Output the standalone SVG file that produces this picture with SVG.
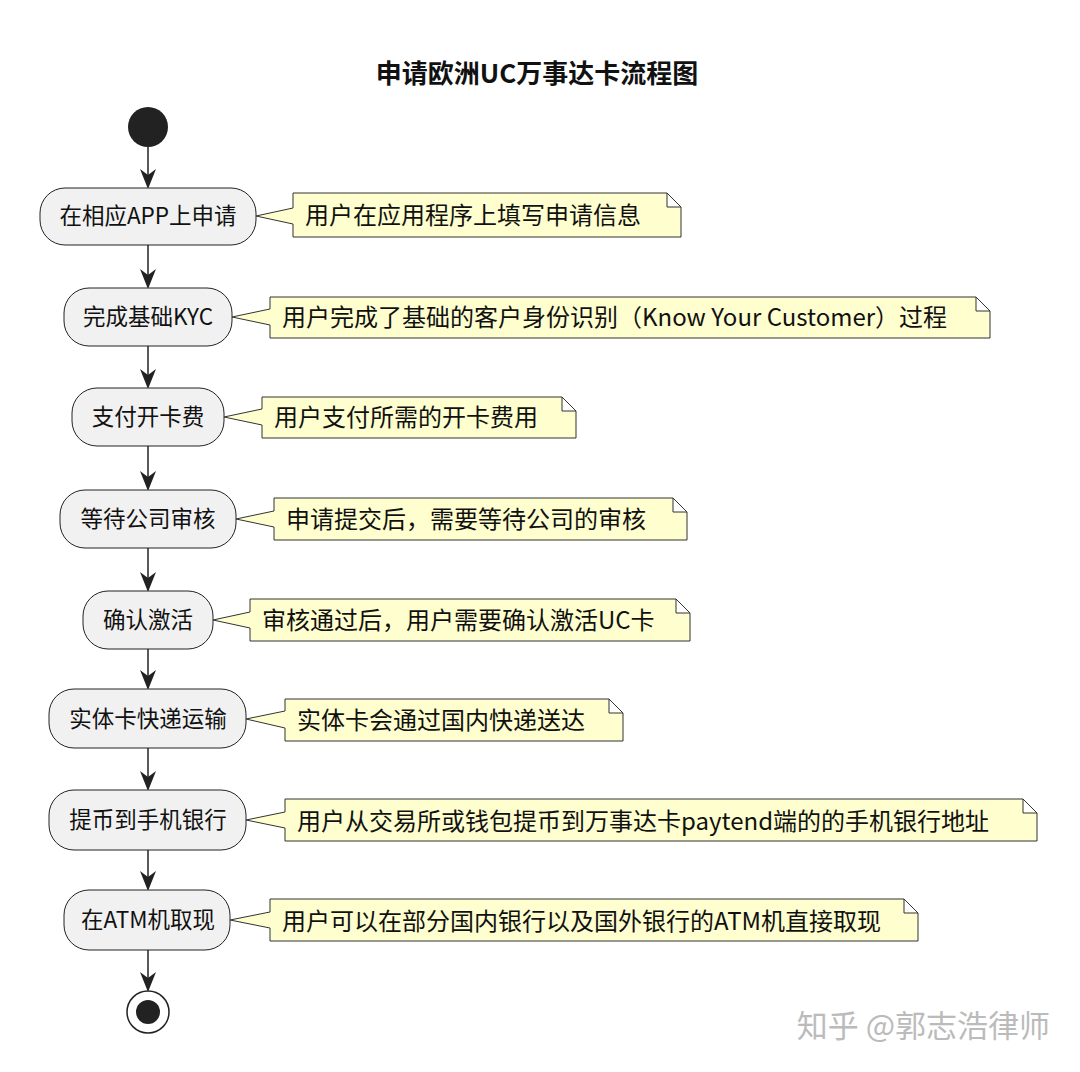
<svg xmlns="http://www.w3.org/2000/svg" width="1080" height="1072" viewBox="0 0 1080 1072">
<defs>
<style>
text{font-family:"Noto Sans CJK SC","Noto Sans",sans-serif;fill:#111}
.n rect{fill:#f1f1f1;stroke:#222;stroke-width:1}
.n text{font-size:22.5px;text-anchor:middle}
.note path{fill:#fefece;stroke:#333;stroke-width:1}
.note text{font-size:24px}
.c line{stroke:#222;stroke-width:1.5}
</style>
<marker id="ah" viewBox="0 0 20 20" refX="18" refY="10" markerWidth="20" markerHeight="20" markerUnits="userSpaceOnUse" orient="auto"><path d="M0,2 L20,10 L0,18 L6,10 Z" fill="#222"/></marker>
</defs>
<rect width="1080" height="1072" fill="#fff"/>
<text x="537" y="83" font-size="26" font-weight="bold" text-anchor="middle">申请欧洲UC万事达卡流程图</text>
<g id="start"><circle cx="148" cy="127" r="20" fill="#222"/></g>
<g class="c" id="connectors">
<line x1="148" y1="147" x2="148" y2="187" marker-end="url(#ah)"/>
<line x1="148" y1="245" x2="148" y2="287" marker-end="url(#ah)"/>
<line x1="148" y1="346" x2="148" y2="387" marker-end="url(#ah)"/>
<line x1="148" y1="446" x2="148" y2="489" marker-end="url(#ah)"/>
<line x1="148" y1="548" x2="148" y2="590" marker-end="url(#ah)"/>
<line x1="148" y1="649" x2="148" y2="688" marker-end="url(#ah)"/>
<line x1="148" y1="748" x2="148" y2="789" marker-end="url(#ah)"/>
<line x1="148" y1="850" x2="148" y2="889" marker-end="url(#ah)"/>
<line x1="148" y1="950" x2="148" y2="990" marker-end="url(#ah)"/>
</g>
<g id="n1" class="n"><rect x="40" y="188" width="216" height="57" rx="25"/><text x="148" y="224">在相应APP上申请</text></g>
<g id="n2" class="n"><rect x="64" y="288" width="168" height="58" rx="25"/><text x="148" y="325">完成基础KYC</text></g>
<g id="n3" class="n"><rect x="72" y="388" width="152" height="58" rx="25"/><text x="148" y="425">支付开卡费</text></g>
<g id="n4" class="n"><rect x="60" y="490" width="176" height="58" rx="25"/><text x="148" y="527">等待公司审核</text></g>
<g id="n5" class="n"><rect x="83" y="591" width="130" height="58" rx="25"/><text x="148" y="628">确认激活</text></g>
<g id="n6" class="n"><rect x="49" y="689" width="197" height="59" rx="25"/><text x="148" y="727">实体卡快递运输</text></g>
<g id="n7" class="n"><rect x="49" y="790" width="197" height="60" rx="25"/><text x="148" y="828">提币到手机银行</text></g>
<g id="n8" class="n"><rect x="64" y="890" width="166" height="60" rx="25"/><text x="148" y="928">在ATM机取现</text></g>
<g id="note1" class="note"><path d="M293,193 L667,193 L681,207 L681,237 L293,237 L293,224 L256,216 L293,208 Z M667,193 L667,207 L681,207"/><text x="305" y="224">用户在应用程序上填写申请信息</text></g>
<g id="note2" class="note"><path d="M270,297 L976,297 L990,311 L990,338 L270,338 L270,325 L232,317 L270,309 Z M976,297 L976,311 L990,311"/><text x="282" y="326">用户完成了基础的客户身份识别（Know Your Customer）过程</text></g>
<g id="note3" class="note"><path d="M262,397 L562,397 L576,411 L576,438 L262,438 L262,425 L224,417 L262,409 Z M562,397 L562,411 L576,411"/><text x="274" y="426">用户支付所需的开卡费用</text></g>
<g id="note4" class="note"><path d="M274,498 L673,498 L687,512 L687,540 L274,540 L274,527 L236,519 L274,511 Z M673,498 L673,512 L687,512"/><text x="286" y="528">申请提交后，需要等待公司的审核</text></g>
<g id="note5" class="note"><path d="M250,599 L676,599 L690,613 L690,641 L250,641 L250,628 L213,620 L250,612 Z M676,599 L676,613 L690,613"/><text x="262" y="629">审核通过后，用户需要确认激活UC卡</text></g>
<g id="note6" class="note"><path d="M285,699 L609,699 L623,713 L623,741 L285,741 L285,728 L246,719 L285,711 Z M609,699 L609,713 L623,713"/><text x="297" y="729">实体卡会通过国内快递送达</text></g>
<g id="note7" class="note"><path d="M285,799 L1023,799 L1037,813 L1037,841 L285,841 L285,828 L246,820 L285,812 Z M1023,799 L1023,813 L1037,813"/><text x="297" y="830">用户从交易所或钱包提币到万事达卡paytend端的的手机银行地址</text></g>
<g id="note8" class="note"><path d="M270,899 L904,899 L918,913 L918,941 L270,941 L270,928 L230,920 L270,912 Z M904,899 L904,913 L918,913"/><text x="282" y="930">用户可以在部分国内银行以及国外银行的ATM机直接取现</text></g>
<g id="end"><circle cx="148" cy="1012" r="21" fill="#fff" stroke="#222" stroke-width="1.5"/><circle cx="148" cy="1012" r="12" fill="#222"/></g>
<text x="1050" y="1037" font-size="31" text-anchor="end" style="fill:#bbb">知乎 @郭志浩律师</text>
</svg>
